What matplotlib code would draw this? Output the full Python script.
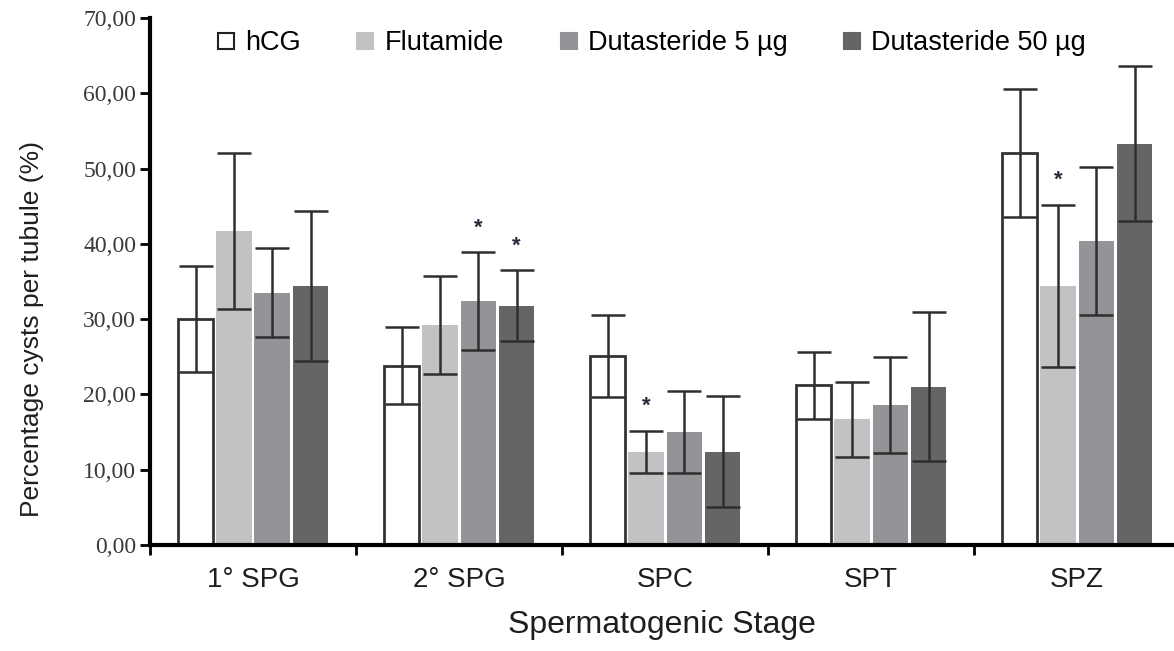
import numpy as np
import matplotlib.pyplot as plt
from matplotlib.ticker import FuncFormatter, FixedLocator
from matplotlib.lines import Line2D

# group means and SD per spermatogenic stage
stages = ["1° SPG", "2° SPG", "SPC", "SPT", "SPZ"]
treatments = ["hCG", "Flutamide", "Dutasteride 5 µg", "Dutasteride 50 µg"]

hcg = [30.0, 23.8, 25.1, 21.2, 52.1]
flutamide = [41.7, 29.2, 12.4, 16.7, 34.4]
dut5 = [33.5, 32.4, 15.0, 18.6, 40.4]
dut50 = [34.4, 31.8, 12.4, 21.0, 53.3]

hcg_sd = [7.0, 5.1, 5.4, 4.4, 8.5]
flutamide_sd = [10.3, 6.5, 2.8, 5.0, 10.8]
dut5_sd = [5.9, 6.5, 5.4, 6.4, 9.8]
dut50_sd = [9.9, 4.7, 7.4, 9.9, 10.3]

# significant differences: (stage index, treatment index)
significant = [(1, 2), (1, 3), (2, 1), (4, 1)]

means = [hcg, flutamide, dut5, dut50]
sds = [hcg_sd, flutamide_sd, dut5_sd, dut50_sd]
fills = ["white", "#c1c2c4", "#939498", "#656567"]
edges = ["#333333", "#c1c2c4", "#939498", "#656567"]

plt.rcParams["font.family"] = ["Liberation Sans", "DejaVu Sans"]

fig = plt.figure(figsize=(11.74, 6.51), dpi=100)
ax = fig.add_axes([0.1278, 0.1628, 0.8722, 0.8096])

x = np.arange(len(stages))
step = 0.186
width = 0.172
for j in range(len(treatments)):
    pos = x + (j - 1.5) * step
    ax.bar(pos, means[j], width, color=fills[j], edgecolor=edges[j],
           linewidth=2.0 if j == 0 else 0, label=treatments[j], zorder=2)
    ax.errorbar(pos, means[j], yerr=sds[j], fmt="none", ecolor="#2e2e2e",
                elinewidth=1.8, capsize=12, capthick=1.8, zorder=3)

for i, j in significant:
    top = means[j][i] + sds[j][i]
    ax.text(x[i] + (j - 1.5) * step, top + 3.2, "*", ha="center", va="center",
            fontsize=16, fontweight="bold", color="#2a2a3a")

ax.set_xlim(-0.5, 4.47)
ax.set_ylim(0, 70)

ax.spines["top"].set_visible(False)
ax.spines["right"].set_visible(False)
ax.spines["left"].set_linewidth(3)
ax.spines["bottom"].set_linewidth(3)

ax.set_yticks(np.arange(0, 71, 10))
ax.yaxis.set_major_formatter(FuncFormatter(lambda v, p: f"{v:.2f}".replace(".", ",")))
ax.tick_params(axis="y", direction="out", length=7, width=2, pad=3,
               labelsize=17, labelcolor="#3a3a3a")
for lbl in ax.get_yticklabels():
    lbl.set_family(["Liberation Serif", "DejaVu Serif"])

ax.set_xticks(x)
ax.set_xticklabels(stages)
ax.xaxis.set_minor_locator(FixedLocator(np.arange(-0.5, 5, 1.0)))
ax.tick_params(axis="x", which="major", length=0, pad=16, labelsize=20,
               labelcolor="#1e1e1e")
ax.tick_params(axis="x", which="minor", direction="out", length=7, width=2)

ax.set_xlabel("Spermatogenic Stage", fontsize=23, color="#1e1e1e", labelpad=12)
ax.set_ylabel("Percentage cysts per tubule (%)", fontsize=19, color="#1e1e1e")
ax.yaxis.set_label_coords(-0.104, 0.41)

handles = [Line2D([], [], marker="s", linestyle="none", markersize=11,
                  markerfacecolor=fills[j],
                  markeredgecolor="#222222" if j == 0 else fills[j],
                  markeredgewidth=1.5) for j in range(len(treatments))]
ax.legend(handles, treatments, loc="upper left", bbox_to_anchor=(0.037, 1.023),
          ncol=4, frameon=False, fontsize=19.5, handletextpad=0.2,
          columnspacing=1.9, handlelength=1.0)

fig.savefig("out.png", dpi=100)
